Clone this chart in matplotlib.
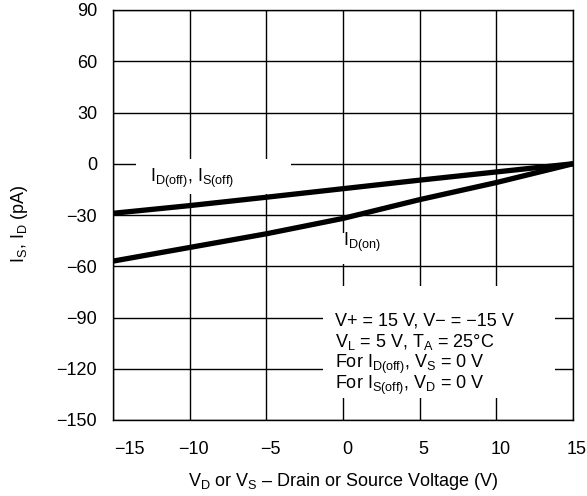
import matplotlib
matplotlib.use("Agg")
import matplotlib.pyplot as plt
from matplotlib.patches import Rectangle
from matplotlib.transforms import ScaledTranslation

plt.rcParams["font.family"] = ["Liberation Sans", "DejaVu Sans"]
plt.rcParams["mathtext.fontset"] = "custom"
plt.rcParams["mathtext.rm"] = "Liberation Sans"
plt.rcParams["mathtext.it"] = "Liberation Sans:italic"
plt.rcParams["font.size"] = 13

# leakage current vs voltage
voltage = [-15, -10, -5, 0, 5, 10, 15]
i_off = [-29, -24.5, -19.6, -14.6, -9.6, -4.8, 0]
i_on = [-57, -49, -41, -32, -21, -11, 0]

x_ticks = [-15, -10, -5, 0, 5, 10, 15]
y_ticks = [-150, -120, -90, -60, -30, 0, 30, 60, 90]

conditions = [
    "V+ = 15 V, V\u2212 = \u221215 V",
    "V$_\\mathregular{L}$ = 5 V, T$_\\mathregular{A}$ = 25\u00b0C",
    r"For I$_\mathregular{D(off)}$, V$_\mathregular{S}$ = 0 V",
    r"For I$_\mathregular{S(off)}$, V$_\mathregular{D}$ = 0 V",
]

fig = plt.figure(figsize=(5.87, 4.96), dpi=100)
ax = fig.add_axes([113 / 587, 76 / 496, 460 / 587, 410 / 496])

ax.plot(voltage, i_off, color="black", lw=3.8, zorder=3)
ax.plot(voltage, i_on, color="black", lw=3.8, zorder=3)

ax.set_xlim(-15, 15)
ax.set_ylim(-150, 90)
ax.set_xticks(x_ticks)
ax.set_yticks(y_ticks)
ax.grid(True, color="black", lw=1.0)
ax.set_axisbelow(True)
ax.tick_params(length=0)
ax.tick_params(axis="y", pad=11.5)
ax.tick_params(axis="x", pad=15)
for s in ax.spines.values():
    s.set_linewidth(1.0)

# datasheet labels sit a bit right of the grid lines
shift = ScaledTranslation(0.04, 0, fig.dpi_scale_trans)
for i, lbl in enumerate(ax.get_xticklabels()):
    if i == 0:
        lbl.set_ha("left")
        lbl.set_transform(lbl.get_transform() + ScaledTranslation(0.01, 0, fig.dpi_scale_trans))
    else:
        lbl.set_transform(lbl.get_transform() + shift)

ax.set_xlabel("V$_\\mathregular{D}$ or V$_\\mathregular{S}$ \u2013 Drain or Source Voltage (V)")
ax.xaxis.set_label_coords(0.5, -0.125)
ax.set_ylabel(r"I$_\mathregular{S}$, I$_\mathregular{D}$ (pA)")
ax.yaxis.set_label_coords(-0.18, 0.48)

# white patches behind the labels hide the grid
ax.add_patch(Rectangle((-13.5, -17.5), 10.1, 20.5, facecolor="white", edgecolor="none", zorder=2))
ax.add_patch(Rectangle((-0.3, -58.6), 3.3, 18.2, facecolor="white", edgecolor="none", zorder=2))
ax.add_patch(Rectangle((-1.3, -137), 15.1, 65.5, facecolor="white", edgecolor="none", zorder=2))

ax.text(-12.6, -10.5, r"I$_\mathregular{D(off)}$, I$_\mathregular{S(off)}$", va="baseline", zorder=4)
ax.text(0.0, -48, r"I$_\mathregular{D(on)}$", va="baseline", zorder=4)
for k, line in enumerate(conditions):
    ax.text(-0.5, -94.9 - 12.3 * k, line, va="baseline", zorder=4)

fig.savefig("out.png", dpi=100)
